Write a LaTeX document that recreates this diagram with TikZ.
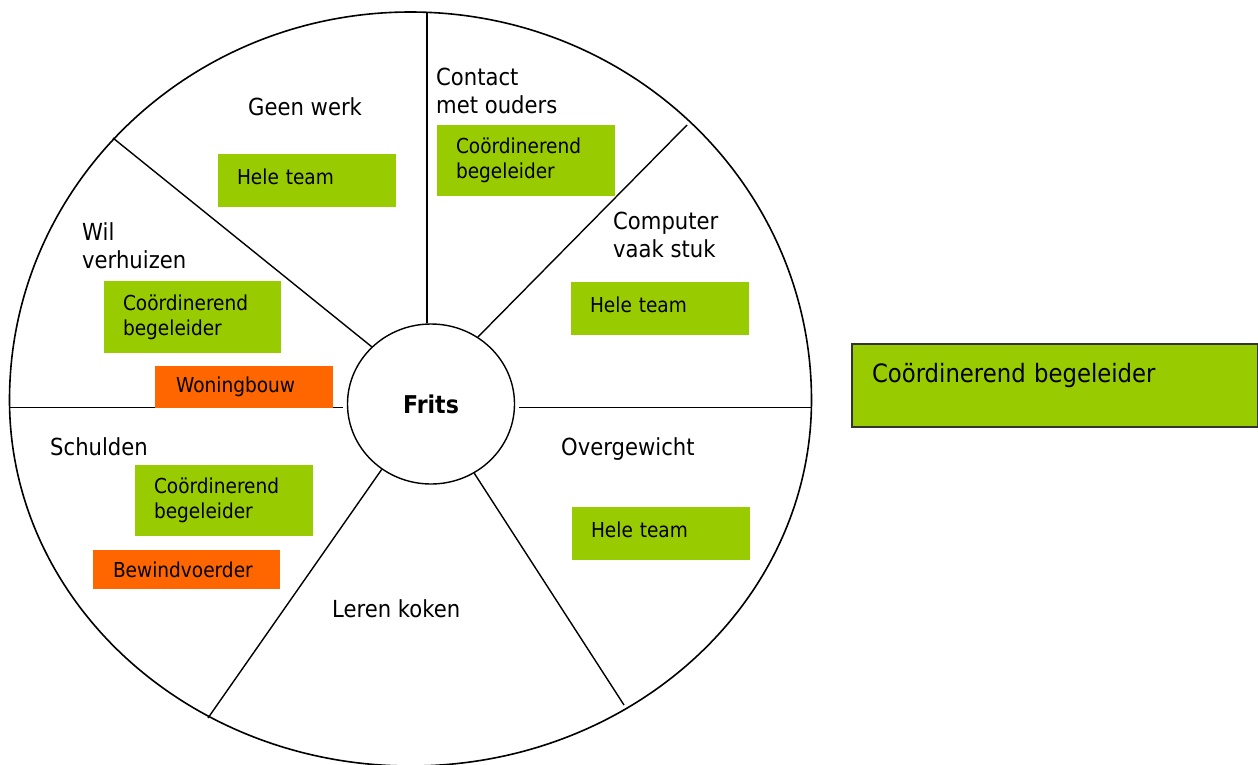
\documentclass[tikz,border=0pt]{standalone}
\usepackage{fontspec}
\setmainfont{DejaVu Sans}[FakeStretch=0.9]
\usetikzlibrary{shapes.geometric}
\definecolor{cbgreen}{HTML}{99CC00}
\definecolor{cborange}{HTML}{FF6600}
\tikzset{
  lbl/.style={anchor=base west, inner sep=0pt, align=left, font=\fontsize{23.5}{28}\selectfont},
  greenbox/.style={fill=cbgreen, inner xsep=19pt, inner ysep=0pt, text width=140pt, align=left, font=\fontsize{20.6}{25}\selectfont},
  orangebox/.style={greenbox, fill=cborange},
  teambox/.style={greenbox, minimum height=53pt, text depth=8pt},
  spoke/.style={line width=1.4pt}
}
\begin{document}
\begin{tikzpicture}[x=1pt,y=-1pt]
    \useasboundingbox (0,0) rectangle (1258,764);
    % wheel rim
    \draw[line width=1.6pt] (9.5,400) arc[start angle=180, end angle=360, x radius=401, y radius=388]
        arc[start angle=0, end angle=180, x radius=401, y radius=366];
    \node[ellipse, draw, line width=1.4pt, minimum width=167pt, minimum height=160pt, inner sep=0pt, font=\fontsize{24.5}{28}\selectfont\bfseries] (frits) at (431,404) {Frits};
    \coordinate (rimN) at (427,12);
    \coordinate (rimNW) at (113,138);
    \coordinate (rimNE) at (687,125);
    \coordinate (rimW) at (10,407.5);
    \coordinate (rimE) at (811,407.5);
    \coordinate (rimSW) at (208,718);
    \coordinate (rimSE) at (624,705);
    % spokes
    \draw[spoke] (rimN) -- (rimN |- frits.north);
    \draw[spoke] (rimNW) -- (frits.136);
    \draw[spoke] (rimNE) -- (frits.55);
    \draw[spoke, shorten >=4pt] (rimW) -- (frits.west |- rimW);
    \draw[spoke, shorten >=4pt] (rimE) -- (frits.east |- rimE);
    \draw[spoke] (rimSW) -- (frits.233);
    \draw[spoke] (rimSE) -- (frits.302);
    % topics
    \node[lbl] (geen) at (248,115) {Geen werk};
    \node[lbl] (contact) at (436,113) {Contact\\met ouders};
    \node[lbl] (computer) at (613,257) {Computer\\vaak stuk};
    \node[lbl] (wil) at (82,268) {Wil\\verhuizen};
    \node[lbl] (schulden) at (50,455) {Schulden};
    \node[lbl] (overgewicht) at (561,455) {Overgewicht};
    \node[lbl] (koken) at (332,617) {Leren koken};
    % who helps
    \node[teambox] (team1) at (307,180.5) {Hele team};
    \node[greenbox, minimum height=71pt] (cb1) at (526,160.5) {Coördinerend\\begeleider};
    \node[teambox] (team2) at (660,308.5) {Hele team};
    \node[greenbox, minimum height=72pt, text width=139pt] (cb2) at (192.5,317) {Coördinerend\\begeleider};
    \node[orangebox, minimum height=42pt, inner xsep=21pt, text width=136pt] (woning) at (244,387) {Woningbouw};
    \node[greenbox, minimum height=71pt] (cb3) at (224,500.5) {Coördinerend\\begeleider};
    \node[orangebox, minimum height=39pt, inner xsep=20pt, text width=147pt] (bewind) at (186.5,569.5) {Bewindvoerder};
    \node[teambox] (team3) at (661,533.5) {Hele team};
    \node[greenbox, draw=black!80, line width=1.2pt, inner xsep=20pt, text width=366pt, text height=38pt, text depth=45pt, font=\fontsize{25.3}{28}\selectfont] (legend) at (1055,385.5) {Coördinerend begeleider};
\end{tikzpicture}
\end{document}
